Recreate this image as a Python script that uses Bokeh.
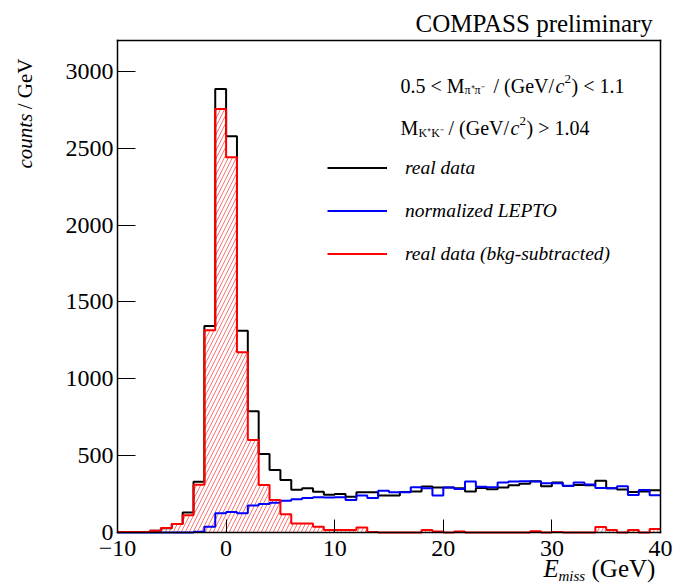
import math

from bokeh.plotting import figure
from bokeh.models import Range1d, FixedTicker, Label, Legend, LegendItem, LinearAxis
from bokeh.embed import file_html
from bokeh.resources import INLINE

# Missing-energy histograms, 1 GeV bins from -10 to 40 GeV
bin_edges = list(range(-10, 41))

real_data = [3, 3, 4, 11, 28, 55, 130, 330, 1343, 2884,
             2578, 1313, 789, 511, 407, 341, 278, 288, 265, 246,
             251, 232, 262, 261, 241, 241, 263, 266, 300, 292,
             293, 287, 267, 290, 282, 293, 308, 317, 333, 301,
             326, 302, 309, 308, 336, 288, 280, 264, 267, 274]

lepto_norm = [0, 0, 0, 0, 0, 0, 0, 5, 37, 125,
              134, 126, 176, 185, 193, 207, 217, 225, 229, 228,
              230, 211, 241, 224, 272, 261, 261, 295, 288, 240,
              293, 283, 331, 298, 294, 326, 332, 334, 332, 320,
              320, 304, 326, 312, 290, 287, 301, 244, 277, 243]

bkg_subtracted = [3, 3, 4, 11, 29, 55, 112, 310, 1315, 2755,
                  2441, 1173, 602, 309, 212, 118, 58, 58, 37, 17,
                  17, 17, 33, 4, 0, 0, 0, 0, 16, 6,
                  0, 6, 0, 0, 0, 0, 0, 0, 8, 0,
                  4, 0, 0, 0, 36, 16, 0, 16, 0, 22]

x_ticks = [-10, 0, 10, 20, 30, 40]
y_ticks = [0, 500, 1000, 1500, 2000, 2500, 3000]
x_lo, x_hi = -10, 40
y_lo, y_hi = 0, 3200

W, H = 673, 586
# pixel box of the histogram frame inside the canvas
LEFT, RIGHT, TOP, BOTTOM = 117, 660, 40, 532
SERIF = "Liberation Serif"
BASELINE_SHIFT = 9  # Label anchors sit this far above the drawn baseline

# the plotting frame spans the whole canvas; the ranges are widened so that
# the histogram box lands on its pixel box and the axes sit at fixed locations
xs = (x_hi - x_lo) / (RIGHT - LEFT)
ys = (y_hi - y_lo) / (BOTTOM - TOP)
p = figure(width=W, height=H,
           x_range=Range1d(x_lo - LEFT * xs, x_hi + (W - RIGHT) * xs),
           y_range=Range1d(y_lo - (H - BOTTOM) * ys, y_hi + TOP * ys),
           output_backend="svg", toolbar_location=None, min_border=0,
           x_axis_type=None, y_axis_type=None)
p.title.visible = False
p.background_fill_color = "white"
p.border_fill_color = "white"
p.outline_line_color = None
p.grid.visible = False


def frame_axis(place, loc, bounds, ticks, tick_in, standoff):
    ax = LinearAxis(fixed_location=loc, bounds=bounds,
                    ticker=FixedTicker(ticks=ticks, minor_ticks=[]))
    ax.axis_line_color = "black"
    ax.axis_line_width = 1.5
    ax.axis_line_cap = "square"
    ax.major_tick_line_color = "black"
    ax.major_tick_line_width = 1
    ax.major_tick_in = tick_in
    ax.major_tick_out = 0
    ax.minor_tick_in = 0
    ax.minor_tick_out = 0
    ax.major_label_text_font = SERIF
    ax.major_label_text_color = "black"
    ax.major_label_text_font_size = "24px"
    ax.major_label_standoff = standoff
    p.add_layout(ax, place)
    return ax


xaxis = frame_axis("below", y_lo, (x_lo, x_hi), x_ticks, 13, 8)
xaxis.major_label_overrides = {-10: "\u221210"}
frame_axis("left", x_lo, (y_lo, y_hi), y_ticks, 18, 4)
frame_axis("above", y_hi, (x_lo, x_hi), [], 0, 0)
frame_axis("right", x_hi, (y_lo, y_hi), [], 0, 0)


def outline(vals):
    return vals + [vals[-1]]


# hatched fill of the background-subtracted spectrum
p.quad(left=bin_edges[:-1], right=bin_edges[1:], bottom=0, top=bkg_subtracted,
       fill_alpha=0, line_alpha=0,
       hatch_pattern="/", hatch_color="red", hatch_alpha=0.55,
       hatch_scale=8, hatch_weight=1)

r_black = p.step(bin_edges, outline(real_data), mode="after",
                 line_color="black", line_width=2)
r_blue = p.step(bin_edges, outline(lepto_norm), mode="after",
                line_color="blue", line_width=2)
r_red = p.step(bin_edges, outline(bkg_subtracted), mode="after",
               line_color="red", line_width=2)

legend = Legend(items=[LegendItem(label="real data", renderers=[r_black]),
                       LegendItem(label="normalized LEPTO", renderers=[r_blue]),
                       LegendItem(label="real data (bkg-subtracted)", renderers=[r_red])],
                location=(327, H - 265), orientation="vertical",
                glyph_width=60, glyph_height=23, label_height=23,
                label_standoff=18, spacing=20, padding=0, margin=0,
                border_line_alpha=0, background_fill_alpha=0,
                label_text_font=SERIF, label_text_font_style="italic",
                label_text_font_size="19.5px", label_text_color="black")
p.add_layout(legend)


def put(text, cx, cy, size, style="normal", align="left", vertical=False):
    """Place a text by the canvas pixel position of its baseline start."""
    if vertical:
        cx -= BASELINE_SHIFT
    else:
        cy -= BASELINE_SHIFT
    p.add_layout(Label(x=cx, y=H - cy, x_units="screen", y_units="screen",
                       text=text, text_font=SERIF, text_font_size=f"{size}px",
                       text_font_style=style, text_align=align,
                       text_baseline="alphabetic",
                       angle=math.pi / 2 if vertical else 0.0,
                       text_color="black"))


put("COMPASS preliminary", 415, 32, 25)

# cut on the pi+pi- mass
put("0.5 < M", 400, 94, 20)
put("\u03c0\u207a\u03c0\u207b", 464, 98, 12)
put("/ (GeV/", 493, 94, 20)
put("c", 555, 94, 20, style="italic")
put("2", 564, 87, 13)
put(") < 1.1", 571, 94, 20)

# cut on the K+K- mass
put("M", 400, 136, 20)
put("K\u207aK\u207b", 418, 141, 12)
put("/ (GeV/", 448, 136, 20)
put("c", 510, 136, 20, style="italic")
put("2", 519, 129, 13)
put(") > 1.04", 526, 136, 20)

# axis titles
put("E", 543, 577, 25, style="italic")
put("miss", 558, 584, 15, style="italic")
put("(GeV)", 591, 577, 25)
put("counts", 33, 168, 21, style="italic", vertical=True)
put("/ GeV", 33, 58, 21, align="right", vertical=True)

open("out.html", "w").write(file_html(p, INLINE))
